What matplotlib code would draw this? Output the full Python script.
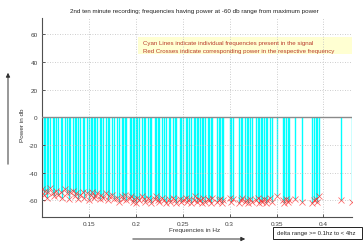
import matplotlib
matplotlib.use("Agg")
import matplotlib.pyplot as plt
from matplotlib.patches import Rectangle, FancyArrowPatch

plt.rcParams['font.family'] = ['Liberation Sans', 'DejaVu Sans']

title = "2nd ten minute recording; frequencies having power at -60 db range from maximum power"
xlabel = "Frequencies in Hz"
ylabel = "Power in db"
note_lines = ["Cyan Lines indicate individual frequencies present in the signal",
              "Red Crosses indicate corresponding power in the respective frequency"]
delta_text = "delta range >= 0.1hz to < 4hz"

xticks = [0.15, 0.2, 0.25, 0.3, 0.35, 0.4]
xtick_labels = ["0.15", "0.2", "0.25", "0.3", "0.35", "0.4"]
yticks = [-60, -40, -20, 0, 20, 40, 60]
ytick_labels = ["-60", "-40", "-20", "0", "20", "40", "60"]

freqs = [
    0.1000, 0.1017, 0.1033, 0.1050, 0.1067, 0.1083, 0.1117, 0.1133, 0.1150, 0.1167,
    0.1200, 0.1217, 0.1250, 0.1267, 0.1283, 0.1300, 0.1333, 0.1350, 0.1367, 0.1383,
    0.1400, 0.1433, 0.1450, 0.1483, 0.1500, 0.1517, 0.1533, 0.1550, 0.1567, 0.1583,
    0.1617, 0.1633, 0.1650, 0.1683, 0.1700, 0.1717, 0.1750, 0.1767, 0.1800, 0.1817,
    0.1850, 0.1867, 0.1883, 0.1900, 0.1933, 0.1950, 0.1967, 0.1983, 0.2000, 0.2017,
    0.2033, 0.2067, 0.2083, 0.2100, 0.2133, 0.2150, 0.2167, 0.2200, 0.2217, 0.2233,
    0.2250, 0.2283, 0.2300, 0.2317, 0.2350, 0.2367, 0.2400, 0.2417, 0.2433, 0.2467,
    0.2483, 0.2500, 0.2533, 0.2550, 0.2567, 0.2583, 0.2617, 0.2633, 0.2650, 0.2667,
    0.2683, 0.2700, 0.2717, 0.2733, 0.2767, 0.2783, 0.2800, 0.2817, 0.2867, 0.2883,
    0.2900, 0.2917, 0.2933, 0.3000, 0.3017, 0.3033, 0.3100, 0.3117, 0.3133, 0.3167,
    0.3183, 0.3200, 0.3217, 0.3233, 0.3283, 0.3300, 0.3317, 0.3333, 0.3350, 0.3367,
    0.3383, 0.3400, 0.3433, 0.3450, 0.3500, 0.3567, 0.3583, 0.3600, 0.3617, 0.3633,
    0.3700, 0.3767, 0.3883, 0.3900, 0.3917, 0.3933, 0.3950, 0.4183, 0.4300,
]

powers = [
    -52, -56, -53, -58, -54, -51, -55, -57, -53, -56,
    -54, -58, -52, -55, -59, -54, -53, -57, -55, -59,
    -56, -54, -58, -55, -60, -56, -54, -58, -57, -55,
    -59, -56, -58, -55, -60, -57, -56, -59, -58, -61,
    -57, -59, -56, -60, -58, -57, -61, -59, -62, -58,
    -60, -57, -59, -61, -58, -60, -62, -59, -57, -60,
    -61, -58, -60, -62, -59, -61, -58, -60, -62, -59,
    -61, -60, -58, -61, -59, -62, -60, -57, -61, -59,
    -60, -62, -58, -61, -59, -60, -62, -58, -61, -60,
    -59, -62, -60, -58, -61, -59, -62, -60, -58, -61,
    -60, -62, -59, -61, -60, -58, -62, -60, -61, -59,
    -62, -60, -58, -61, -57, -60, -62, -59, -61, -60,
    -59, -61, -62, -60, -59, -61, -57, -60, -61,
]

W, H = 363, 253
fig = plt.figure(figsize=(W / 100, H / 100), dpi=100)
ax = fig.add_axes([42 / W, 1 - 218 / H, 310 / W, 199.5 / H])
ax.set_facecolor('none')

ax.vlines(freqs, powers, 0, colors='#00ffff', linewidth=1.0, zorder=2)
ax.plot(freqs, powers, linestyle='none', marker='x', color='#ff2020',
        markersize=4.8, markeredgewidth=0.5, alpha=0.75, zorder=3)
ax.axhline(0, color='#8a8a8a', linewidth=1.0, zorder=3)

ax.set_xlim(min(freqs), max(freqs) + 0.0004)
ax.set_ylim(-72, 72)
ax.set_xticks(xticks)
ax.set_xticklabels(xtick_labels)
ax.set_yticks(yticks)
ax.set_yticklabels(ytick_labels)
ax.tick_params(direction='in', length=2.5, width=0.6, colors='#404040',
               labelsize=4.6, pad=3)
ax.grid(True, linestyle=(0, (1, 2)), color='#bdbdbd', linewidth=0.6)
ax.set_axisbelow(False)
for s in ['top', 'right']:
    ax.spines[s].set_visible(False)
for s in ['left', 'bottom']:
    ax.spines[s].set_color('#505050')
    ax.spines[s].set_linewidth(0.8)

# title and labels
fig.text(194 / W, 1 - 11 / H, title, ha='center', va='center', fontsize=4.5, color='#222222')
fig.text(195 / W, 1 - 231 / H, xlabel, ha='center', va='center', fontsize=4.6, color='#333333')
fig.text(23 / W, 1 - 125 / H, ylabel, ha='center', va='center', rotation=90,
         fontsize=4.6, color='#333333')

# arrows
fig.patches.append(FancyArrowPatch(
    (8 / W, 1 - 168 / H), (8 / W, 1 - 71 / H), transform=fig.transFigure,
    arrowstyle='-|>', mutation_scale=6, color='#303030', linewidth=0.7))
fig.patches.append(FancyArrowPatch(
    (130 / W, 1 - 240 / H), (248 / W, 1 - 240 / H), transform=fig.transFigure,
    arrowstyle='-|>', mutation_scale=6, color='#303030', linewidth=0.7))

# yellow note box (under the axes so the grid shows through)
fig.patches.append(Rectangle((138 / W, 1 - 55 / H), 214 / W, 17 / H,
                             transform=fig.transFigure, facecolor='#ffffd2',
                             edgecolor='none', zorder=-1))
fig.text(143 / W, 1 - 44 / H, note_lines[0], ha='left', va='center', fontsize=4.4, color='#b83a2a')
fig.text(143 / W, 1 - 51.5 / H, note_lines[1], ha='left', va='center', fontsize=4.4, color='#b83a2a')

# delta box
fig.patches.append(Rectangle((273 / W, 1 - 240 / H), 89 / W, 12 / H,
                             transform=fig.transFigure, facecolor='white',
                             edgecolor='#222222', linewidth=0.7))
fig.text(277 / W, 1 - 234 / H, delta_text, ha='left', va='center', fontsize=4.3, color='#222222')

fig.savefig('out.png', dpi=100)
